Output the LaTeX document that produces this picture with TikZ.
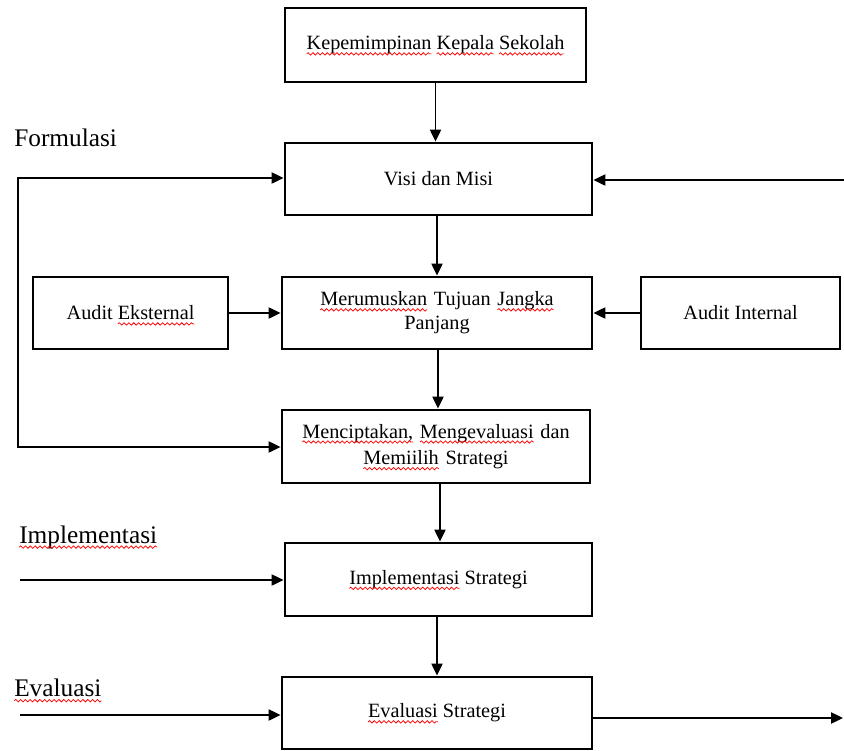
\documentclass[tikz,border=0pt]{standalone}
\usepackage{fontspec}
\setmainfont{Liberation Serif}
\usetikzlibrary{arrows.meta,decorations.pathmorphing}
\newsavebox\wbox
\newlength\wlen
\newcommand\redwave[1]{\sbox\wbox{#1}\setlength\wlen{\wd\wbox}\leavevmode\rlap{\usebox\wbox}\tikz[baseline=0pt,x=1pt,y=1pt]{\path[use as bounding box] (0pt,0pt) rectangle (\wlen,0.1pt);\draw[red,line width=0.55pt,decorate,decoration={snake,amplitude=0.9pt,segment length=3.6pt}] (0pt,-3pt) -- (\wlen,-3pt);}}
\begin{document}
\begin{tikzpicture}[x=0.75pt,y=-0.75pt,
  box/.style={draw=black,line width=2.2pt,fill=white,inner sep=2pt,align=center,
    font=\fontsize{15.2}{18}\selectfont},
  conn/.style={line width=0.9pt,-{Triangle[length=9pt,width=8.5pt]}},
  lbl/.style={anchor=west,inner sep=0pt,font=\fontsize{19}{22}\selectfont}]
\useasboundingbox (0,0) rectangle (844,751);
% boxes
\node[box,minimum width=225.75pt,minimum height=55.5pt] (b1) at (435.5,45) {\redwave{Kepemimpinan} \redwave{Kepala} \redwave{Sekolah}};
\node[box,minimum width=230.25pt,minimum height=54pt] (b2) at (438.5,179) {Visi dan Misi};
\node[box,minimum width=232.5pt,minimum height=54pt,text width=215pt] (b3) at (437,313) {\redwave{Merumuskan} Tujuan \redwave{Jangka}\\Panjang};
\node[box,minimum width=146.25pt,minimum height=54pt] (ae) at (130.5,313) {Audit \redwave{Eksternal}};
\node[box,minimum width=149.25pt,minimum height=54pt] (ai) at (740.5,313) {Audit Internal};
\node[box,minimum width=231pt,minimum height=54.75pt,text width=215pt,font=\fontsize{15.2}{20}\selectfont] (b4) at (436,446.5) {\redwave{Menciptakan,} \redwave{Mengevaluasi} dan\\\redwave{Memiilih} Strategi};
\node[box,minimum width=230.25pt,minimum height=54.75pt] (b5) at (438.5,579.5) {\redwave{Implementasi} Strategi};
\node[box,minimum width=232.5pt,minimum height=54pt] (b6) at (437,713) {\redwave{Evaluasi} Strategi};
% labels
\node[lbl] (lf) at (14,138) {Formulasi};
\node[lbl] (li) at (19,537) {\redwave{Implementasi}};
\node[lbl] (le) at (14,688) {\redwave{Evaluasi}};
% free-end coordinates
\coordinate (lt) at (18,178);
\coordinate (lb) at (18,447);
\coordinate (rt) at (844,180);
\coordinate (l5) at (20,580);
\coordinate (l6) at (20,715);
\coordinate (r6) at (843,718);
% vertical connectors
\draw[conn] (b1.south) -- (b1.south |- b2.north);
\draw[conn] (b2.south -| 437,0) -- (437,0 |- b3.north);
\draw[conn] (b3.south -| 438,0) -- (438,0 |- b4.north);
\draw[conn] (b4.south -| 440,0) -- (440,0 |- b5.north);
\draw[conn] (b5.south -| 437,0) -- (437,0 |- b6.north);
% horizontal connectors
\draw[conn] (ae.east) -- (b3.west |- ae.east);
\draw[conn] (ai.west) -- (b3.east |- ai.west);
\draw[conn] (rt) -- (b2.east |- rt);
\draw[line width=0.9pt,{Triangle[length=9pt,width=8.5pt]}-{Triangle[length=9pt,width=8.5pt]}]
  (b2.west |- lt) -- (lt) -- (lb) -- (b4.west |- lb);
\draw[conn] (l5) -- (b5.west |- l5);
\draw[conn] (l6) -- (b6.west |- l6);
\draw[conn] (b6.east |- r6) -- (r6);
\end{tikzpicture}
\end{document}
